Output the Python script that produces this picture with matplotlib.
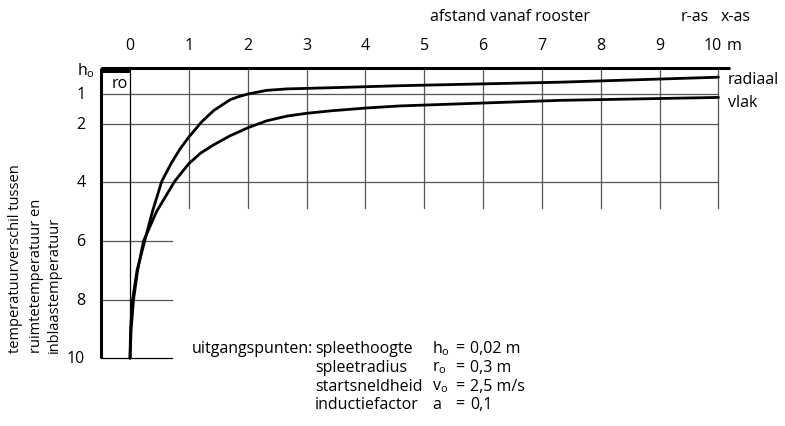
import matplotlib; matplotlib.use("Agg")
import matplotlib.pyplot as plt
from matplotlib.patches import Rectangle

plt.rcParams["font.family"] = ["Open Sans", "DejaVu Sans"]
plt.rcParams["mathtext.default"] = "regular"

# afstand vanaf rooster (m) -> temperatuurverschil
radiaal_x = [0, 0.01, 0.04, 0.12, 0.25, 0.38, 0.54, 0.70, 0.85, 1.0, 1.22, 1.42, 1.70, 1.85, 2.01, 2.32, 2.66, 3.40, 4.59, 7.31, 10.0]
radiaal_y = [10, 9.0, 8.05, 7.0, 6.0, 5.0, 3.96, 3.35, 2.86, 2.45, 1.93, 1.55, 1.18, 1.07, 0.98, 0.86, 0.81, 0.77, 0.70, 0.58, 0.41]
vlak_x = [0, 0.02, 0.06, 0.13, 0.23, 0.45, 0.76, 1.0, 1.20, 1.42, 1.70, 2.01, 2.32, 2.66, 3.01, 3.40, 4.02, 4.59, 7.31, 10.0]
vlak_y = [10, 9.0, 8.0, 7.0, 6.0, 5.0, 3.96, 3.36, 3.0, 2.72, 2.41, 2.13, 1.90, 1.74, 1.64, 1.56, 1.46, 1.39, 1.20, 1.10]

x_ticks = list(range(11))
y_ticks = [1, 2, 4, 6, 8, 10]
long_rows = [1, 2, 4]      # lijnen over de hele breedte
short_rows = [6, 8, 10]    # korte lijnen links
params = [("spleethoogte", "$h_o$", "0,02 m"),
          ("spleetradius", "$r_o$", "0,3 m"),
          ("startsneldheid", "$v_o$", "2,5 m/s"),
          ("inductiefactor", "a", "0,1")]

fig = plt.figure(figsize=(7.85, 4.27), dpi=100)
ax = fig.add_axes([0, 0, 1, 1])
ax.set_xlim(-2.209, 11.130)
ax.set_ylim(12.314, -2.259)
ax.axis("off")

top, left, gc, fs = 0.08, -0.5, "#555555", 11.5

# raster
for y in long_rows:
    ax.plot([left, 10], [y, y], color=gc, lw=0.9)
for y in short_rows:
    ax.plot([left, 0.71], [y, y], color=gc if y != 10 else "black", lw=0.9)
for x in x_ticks[1:]:
    ax.plot([x, x], [top, 4.87], color=gc, lw=0.9)
ax.plot([0, 0], [top, 10], color="black", lw=0.9)
ax.plot([left, 10.2], [top, top], color="black", lw=2.2, solid_capstyle="butt")
ax.plot([left, left], [top, 10], color="black", lw=2.2, solid_capstyle="butt")
ax.add_patch(Rectangle((left, top), 0.5, 0.2, facecolor="black", edgecolor="none"))
ax.text(-0.17, 0.61, "ro", ha="center", va="center", fontsize=fs)

# curves
ax.plot(radiaal_x, radiaal_y, color="black", lw=2.0, solid_capstyle="round", solid_joinstyle="round")
ax.plot(vlak_x, vlak_y, color="black", lw=2.0, solid_capstyle="round", solid_joinstyle="round")
ax.text(10.16, 0.47, "radiaal", ha="left", va="center", fontsize=fs)
ax.text(10.16, 1.26, "vlak", ha="left", va="center", fontsize=fs)

# assen-teksten
for x in x_ticks[:-1]:
    ax.text(x, -0.69, str(x), ha="center", va="center", fontsize=fs)
ax.text(9.9, -0.69, "10", ha="center", va="center", fontsize=fs)
ax.text(10.13, -0.69, "m", ha="left", va="center", fontsize=fs)
ax.text(6.46, -1.68, "afstand vanaf rooster", ha="center", va="center", fontsize=fs)
ax.text(9.35, -1.68, "r-as", ha="left", va="center", fontsize=fs)
ax.text(10.03, -1.68, "x-as", ha="left", va="center", fontsize=fs)

for y in y_ticks:
    ax.text(-0.76, y, str(y), ha="right", va="center", fontsize=fs)
ax.text(-0.6, 0.14, "$h_o$", ha="right", va="center", fontsize=fs)

for x, line in zip([-1.954, -1.597, -1.291],
                   ["temperatuurverschil tussen", "ruimtetemperatuur en", "inblaastemperatuur"]):
    ax.text(x, 9.8, line, rotation=90, ha="center", va="bottom", fontsize=10.5)

# uitgangspunten
rows_y = [9.64, 10.31, 10.94, 11.55]
ax.text(1.05, rows_y[0], "uitgangspunten:", ha="left", va="center", fontsize=fs)
for y, (name, sym, val) in zip(rows_y, params):
    ax.text(3.14, y, name, ha="left", va="center", fontsize=fs)
    ax.text(5.13, y, sym, ha="left", va="center", fontsize=fs)
    ax.text(5.52, y, "=", ha="left", va="center", fontsize=fs)
    ax.text(5.78, y, val, ha="left", va="center", fontsize=fs)

fig.savefig("out.png", dpi=100)
